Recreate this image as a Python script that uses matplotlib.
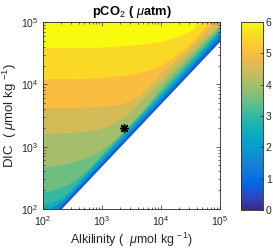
import numpy as np
import matplotlib.pyplot as plt
from matplotlib.colors import LinearSegmentedColormap, Normalize
from matplotlib.cm import ScalarMappable

plt.rcParams['font.family'] = ['Liberation Sans', 'DejaVu Sans']
plt.rcParams['mathtext.fontset'] = 'custom'
plt.rcParams['mathtext.rm'] = 'Liberation Sans'
plt.rcParams['mathtext.it'] = 'Liberation Sans:italic'
plt.rcParams['mathtext.bf'] = 'Liberation Sans:bold'

# contour lines of log10(pCO2) as (log10 Alk, log10 DIC)
levels = [6.0, 5.5, 5.0, 4.5, 4.0, 3.5, 3.0, 2.5, 2.0, 1.5, 1.0]
lvl_6_0 = [(1.9, 4.58), (2.5, 4.58), (3.0, 4.59), (3.5, 4.62), (4.0, 4.68), (4.3, 4.76),
           (4.5, 4.85), (4.72, 5.0), (5.1, 5.3)]
lvl_5_5 = [(1.9, 4.08), (2.5, 4.08), (3.0, 4.10), (3.5, 4.15), (3.8, 4.22), (4.0, 4.30),
           (4.2, 4.42), (4.4, 4.56), (4.6, 4.74), (4.85, 5.0), (5.1, 5.25)]
lvl_5_0 = [(1.9, 3.61), (2.5, 3.62), (3.0, 3.64), (3.3, 3.67), (3.5, 3.73), (3.65, 3.82),
           (3.81, 3.98), (4.0, 4.17), (4.2, 4.34), (4.4, 4.5), (4.6, 4.68), (4.93, 5.0), (5.2, 5.26)]
lvl_4_5 = [(1.9, 3.21), (2.5, 3.22), (2.8, 3.25), (3.0, 3.29), (3.2, 3.36), (3.4, 3.48),
           (3.6, 3.66), (3.9, 3.95), (4.2, 4.22), (4.5, 4.50), (4.75, 4.73), (5.0, 4.95), (5.2, 5.15)]
lvl_4_0 = [(1.9, 2.65), (2.0, 2.66), (2.3, 2.70), (2.6, 2.77), (2.8, 2.84), (3.0, 2.94),
           (3.2, 3.09), (3.4, 3.27), (3.7, 3.57), (4.04, 3.99), (4.5, 4.44), (5.0, 4.92), (5.2, 5.12)]
lvl_3_5 = [(1.9, 2.25), (2.0, 2.26), (2.2, 2.30), (2.4, 2.37), (2.6, 2.49), (2.8, 2.66),
           (3.0, 2.86), (3.42, 3.28), (4.11, 3.99), (4.5, 4.38), (5.0, 4.89), (5.2, 5.09)]
lvl_3_0 = [(1.9, 2.07), (2.0, 2.08), (2.15, 2.10), (2.3, 2.16), (2.45, 2.27), (2.6, 2.42),
           (3.0, 2.83), (3.47, 3.30), (4.15, 3.99), (5.0, 4.85), (5.2, 5.05)]
lvl_2_5 = [(1.9, 1.95), (2.08, 2.0), (2.3, 2.10), (2.5, 2.28), (2.8, 2.60), (3.51, 3.31),
           (4.19, 3.99), (5.0, 4.82), (5.2, 5.02)]
lvl_2_0 = [(1.9, 1.90), (2.05, 1.95), (2.15, 2.0), (2.3, 2.10), (2.5, 2.26), (2.8, 2.56),
           (3.54, 3.31), (4.22, 3.99), (5.0, 4.79), (5.2, 4.99)]
lvl_1_5 = [(1.9, 1.62), (2.1, 1.83), (2.22, 1.96), (2.3, 2.03), (2.6, 2.34), (3.57, 3.31),
           (4.25, 3.99), (5.0, 4.76), (5.2, 4.95)]
lvl_1_0 = [(1.9, 1.61), (5.2, 4.91)]
contours = [lvl_6_0, lvl_5_5, lvl_5_0, lvl_4_5, lvl_4_0, lvl_3_5, lvl_3_0,
            lvl_2_5, lvl_2_0, lvl_1_5, lvl_1_0]

# edge of the solution space (DIC ~ Alk/2), below it nothing is drawn
edge_logalk = [1.9, 5.2]
edge_logdic = [1.58, 4.88]
base_level = 0.5

# reference point
star_alk = 2400
star_dic = 2000

# parula colormap anchors
parula = [(0.2081, 0.1663, 0.5292), (0.1959, 0.2645, 0.7279), (0.1253, 0.3242, 0.8303),
          (0.0117, 0.3875, 0.8820), (0.0498, 0.4586, 0.8641), (0.0793, 0.5200, 0.8312),
          (0.0343, 0.5966, 0.8199), (0.0228, 0.6535, 0.7768), (0.0843, 0.6928, 0.7062),
          (0.2178, 0.7250, 0.6193), (0.3953, 0.7459, 0.5244), (0.5709, 0.7485, 0.4494),
          (0.7184, 0.7411, 0.3905), (0.8507, 0.7299, 0.3360), (0.9739, 0.7314, 0.2666),
          (0.9990, 0.7653, 0.2164), (0.9880, 0.8066, 0.1794), (0.9589, 0.8949, 0.1132),
          (0.9763, 0.9831, 0.0538)]
pos = [0, 4, 6, 8, 12, 16, 20, 24, 28, 32, 36, 40, 44, 48, 52, 54, 56, 60, 63]
cmap = LinearSegmentedColormap.from_list('parula', [(p / 63, c) for p, c in zip(pos, parula)])
norm = Normalize(0, 6)

dark = (0.15, 0.15, 0.15)
fig = plt.figure(figsize=(2.73, 2.48), dpi=100)
ax = fig.add_axes([43 / 273, 1 - 209 / 248, 177 / 273, 187 / 248])
ax.set_xscale('log')
ax.set_yscale('log')

# base band right above the edge
ex = 10 ** np.array(edge_logalk)
ey = 10 ** np.array(edge_logdic)
ax.fill(np.r_[ex, ex[-1], ex[0]], np.r_[ey, 1e7, 1e7], color=cmap(norm(base_level)), lw=0)

# every level paints the region above its contour line
for lev, pts in zip(levels[::-1], contours[::-1]):
    xs = 10 ** np.array([p[0] for p in pts])
    ys = 10 ** np.array([p[1] for p in pts])
    ax.fill(np.r_[xs, xs[-1], xs[0]], np.r_[ys, 1e7, 1e7], color=cmap(norm(lev)), lw=0)

ax.plot(star_alk, star_dic, marker=(8, 2, 0), ms=6.5, mew=1.0, color='k', ls='none')

ax.set_xlim(1e2, 1e5)
ax.set_ylim(1e2, 1e5)
ax.set_xticks([1e2, 1e3, 1e4, 1e5])
ax.set_yticks([1e2, 1e3, 1e4, 1e5])
ax.tick_params(which='both', direction='in', top=True, right=True, colors=dark,
               labelsize=7.5, width=0.5)
ax.tick_params(which='major', length=3)
ax.tick_params(which='minor', length=1.6)
for s in ax.spines.values():
    s.set_color(dark)
    s.set_linewidth(0.6)

ax.set_title(r'pCO$_2$ ( $\mu$atm)', fontsize=9.3, fontweight='bold', pad=5)
ax.set_xlabel(r'Alkilinity (  $\mu$mol kg $^{-1}$)', fontsize=9, color=dark, labelpad=2)
ax.set_ylabel(r'DIC  ( $\mu$mol kg $^{-1}$)', fontsize=9.5, color=dark, labelpad=1)

cax = fig.add_axes([241 / 273, 1 - 210 / 248, 22 / 273, 188 / 248])
sm = ScalarMappable(norm=norm, cmap=cmap)
cb = fig.colorbar(sm, cax=cax, ticks=range(7))
cb.outline.set_edgecolor(dark)
cb.outline.set_linewidth(0.6)
cax.tick_params(direction='in', length=2, width=0.5, colors=dark, labelsize=7.5, pad=2)

fig.savefig('out.png', dpi=100)
